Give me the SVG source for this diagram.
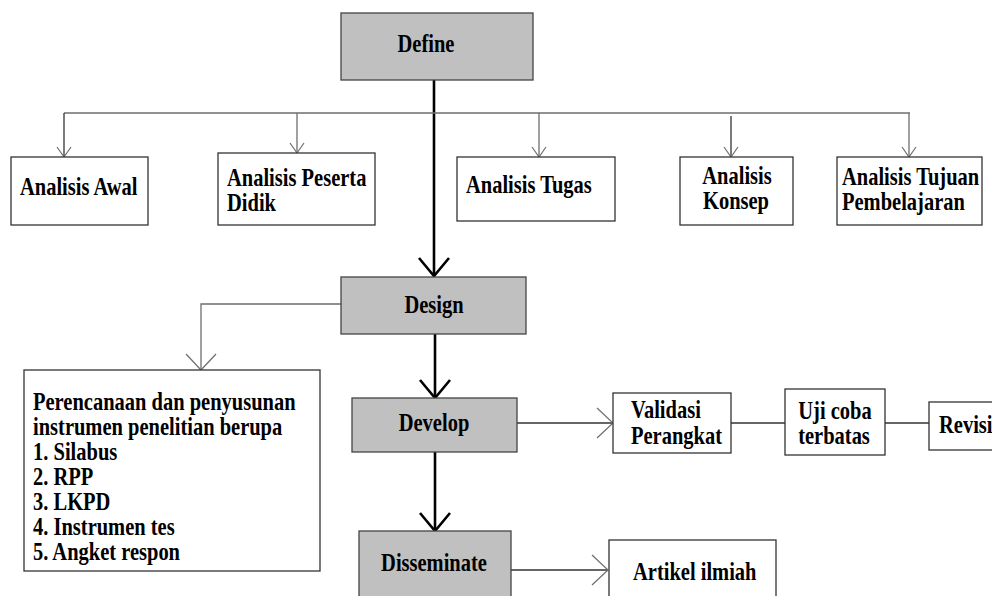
<svg xmlns="http://www.w3.org/2000/svg" width="992" height="596" viewBox="0 0 992 596">
<defs>
<style>
.box{fill:#fff;stroke:#333;stroke-width:1.3}
.phase{fill:#c0c0c0;stroke:#444;stroke-width:1.3}
.t{font-weight:bold;font-size:20.5px;fill:#000}
.c{text-anchor:middle}
.thin{fill:none;stroke:#6e6e6e;stroke-width:1.3}
.dark{fill:none;stroke:#333;stroke-width:1.3}
.thick{fill:none;stroke:#000;stroke-width:2.6}
</style>
<marker id="vs" markerUnits="userSpaceOnUse" viewBox="-12 -10 14 20" refX="0" refY="0" markerWidth="14" markerHeight="20" orient="auto"><path d="M-10,-7 L0,0 L-10,7" fill="none" stroke="#6e6e6e" stroke-width="1.2"/></marker>
<marker id="vl" markerUnits="userSpaceOnUse" viewBox="-18 -18 20 36" refX="0" refY="0" markerWidth="20" markerHeight="36" orient="auto"><path d="M-16,-15 L0,0 L-16,15" fill="none" stroke="#6e6e6e" stroke-width="1.2"/></marker>
<marker id="vt" markerUnits="userSpaceOnUse" viewBox="-20 -18 22 36" refX="0" refY="0" markerWidth="22" markerHeight="36" orient="auto"><path d="M-18,-15 L0,0 L-18,15" fill="none" stroke="#000" stroke-width="2.6"/></marker>
</defs>
<rect width="992" height="596" fill="#fff"/>
<g id="connectors">
<path class="thick" d="M434,80 V276" marker-end="url(#vt)"/>
<path class="thin" d="M64,113 H910"/>
<path class="dark" d="M64,113 V157" marker-end="url(#vs)"/>
<path class="thin" d="M297,113 V153" marker-end="url(#vs)"/>
<path class="thin" d="M539,113 V157" marker-end="url(#vs)"/>
<path class="dark" d="M731,116 V157" marker-end="url(#vs)"/>
<path class="thin" d="M909,113 V157" marker-end="url(#vs)"/>
<path class="thin" d="M341,304 H201 V370" marker-end="url(#vl)"/>
<path class="thick" d="M435,334 V398" marker-end="url(#vt)"/>
<path class="dark" d="M517,423 H613" marker-end="url(#vl)"/>
<path class="dark" d="M731,423 H785"/>
<path class="dark" d="M885,423 H929"/>
<path class="thick" d="M435,452 V531" marker-end="url(#vt)"/>
<path class="dark" d="M511,570 H608" marker-end="url(#vl)"/>
</g>
<g id="define"><rect class="phase" x="341" y="13" width="192" height="67"/><text class="t c" font-family="Liberation Serif" transform="translate(426 52) scale(1 1.2)">Define</text></g>
<g id="analisis-awal"><rect class="box" x="11" y="157" width="137" height="68"/><text class="t" font-family="Liberation Serif" transform="translate(20 195) scale(1 1.2)">Analisis Awal</text></g>
<g id="analisis-peserta-didik"><rect class="box" x="218" y="153" width="157" height="72"/><text class="t" font-family="Liberation Serif" transform="translate(227 186) scale(1 1.2)">Analisis Peserta</text><text class="t" font-family="Liberation Serif" transform="translate(227 211) scale(1 1.2)">Didik</text></g>
<g id="analisis-tugas"><rect class="box" x="457" y="157" width="158" height="64"/><text class="t" font-family="Liberation Serif" transform="translate(466 193) scale(1 1.2)">Analisis Tugas</text></g>
<g id="analisis-konsep"><rect class="box" x="680" y="157" width="113" height="68"/><text class="t c" font-family="Liberation Serif" transform="translate(737 184) scale(1 1.2)">Analisis</text><text class="t c" font-family="Liberation Serif" transform="translate(736 209) scale(1 1.2)">Konsep</text></g>
<g id="analisis-tujuan"><rect class="box" x="837" y="157" width="145" height="68"/><text class="t" font-family="Liberation Serif" transform="translate(842 185) scale(1 1.2)">Analisis Tujuan</text><text class="t" font-family="Liberation Serif" transform="translate(842 210) scale(1 1.2)">Pembelajaran</text></g>
<g id="design"><rect class="phase" x="341" y="277" width="185" height="57"/><text class="t c" font-family="Liberation Serif" transform="translate(434 313) scale(1 1.2)">Design</text></g>
<g id="perencanaan"><rect class="box" x="24" y="370" width="296" height="201"/>
<text class="t" font-family="Liberation Serif" transform="translate(33 410) scale(1 1.2)">Perencanaan dan penyusunan</text>
<text class="t" font-family="Liberation Serif" transform="translate(33 435) scale(1 1.2)">instrumen penelitian berupa</text>
<text class="t" font-family="Liberation Serif" transform="translate(33 460) scale(1 1.2)">1. Silabus</text>
<text class="t" font-family="Liberation Serif" transform="translate(33 485) scale(1 1.2)">2. RPP</text>
<text class="t" font-family="Liberation Serif" transform="translate(33 510) scale(1 1.2)">3. LKPD</text>
<text class="t" font-family="Liberation Serif" transform="translate(33 535) scale(1 1.2)">4. Instrumen tes</text>
<text class="t" font-family="Liberation Serif" transform="translate(33 560) scale(1 1.2)">5. Angket respon</text></g>
<g id="develop"><rect class="phase" x="352" y="398" width="165" height="54"/><text class="t c" font-family="Liberation Serif" transform="translate(434 431) scale(1 1.2)">Develop</text></g>
<g id="validasi"><rect class="box" x="613" y="393" width="118" height="60"/><text class="t" font-family="Liberation Serif" transform="translate(631 418) scale(1 1.2)">Validasi</text><text class="t" font-family="Liberation Serif" transform="translate(631 444) scale(1 1.2)">Perangkat</text></g>
<g id="uji-coba"><rect class="box" x="785" y="389" width="100" height="66"/><text class="t c" font-family="Liberation Serif" transform="translate(835 419) scale(1 1.2)">Uji coba</text><text class="t c" font-family="Liberation Serif" transform="translate(834 444) scale(1 1.2)">terbatas</text></g>
<g id="revisi"><rect class="box" x="929" y="402" width="70" height="48"/><text class="t" font-family="Liberation Serif" transform="translate(939 433) scale(1 1.2)">Revisi</text></g>
<g id="disseminate"><rect class="phase" x="359" y="531" width="152" height="70"/><text class="t c" font-family="Liberation Serif" transform="translate(434 571) scale(1 1.2)">Disseminate</text></g>
<g id="artikel"><rect class="box" x="609" y="540" width="167" height="62"/><text class="t" font-family="Liberation Serif" transform="translate(633 580) scale(1 1.2)">Artikel ilmiah</text></g>
</svg>
